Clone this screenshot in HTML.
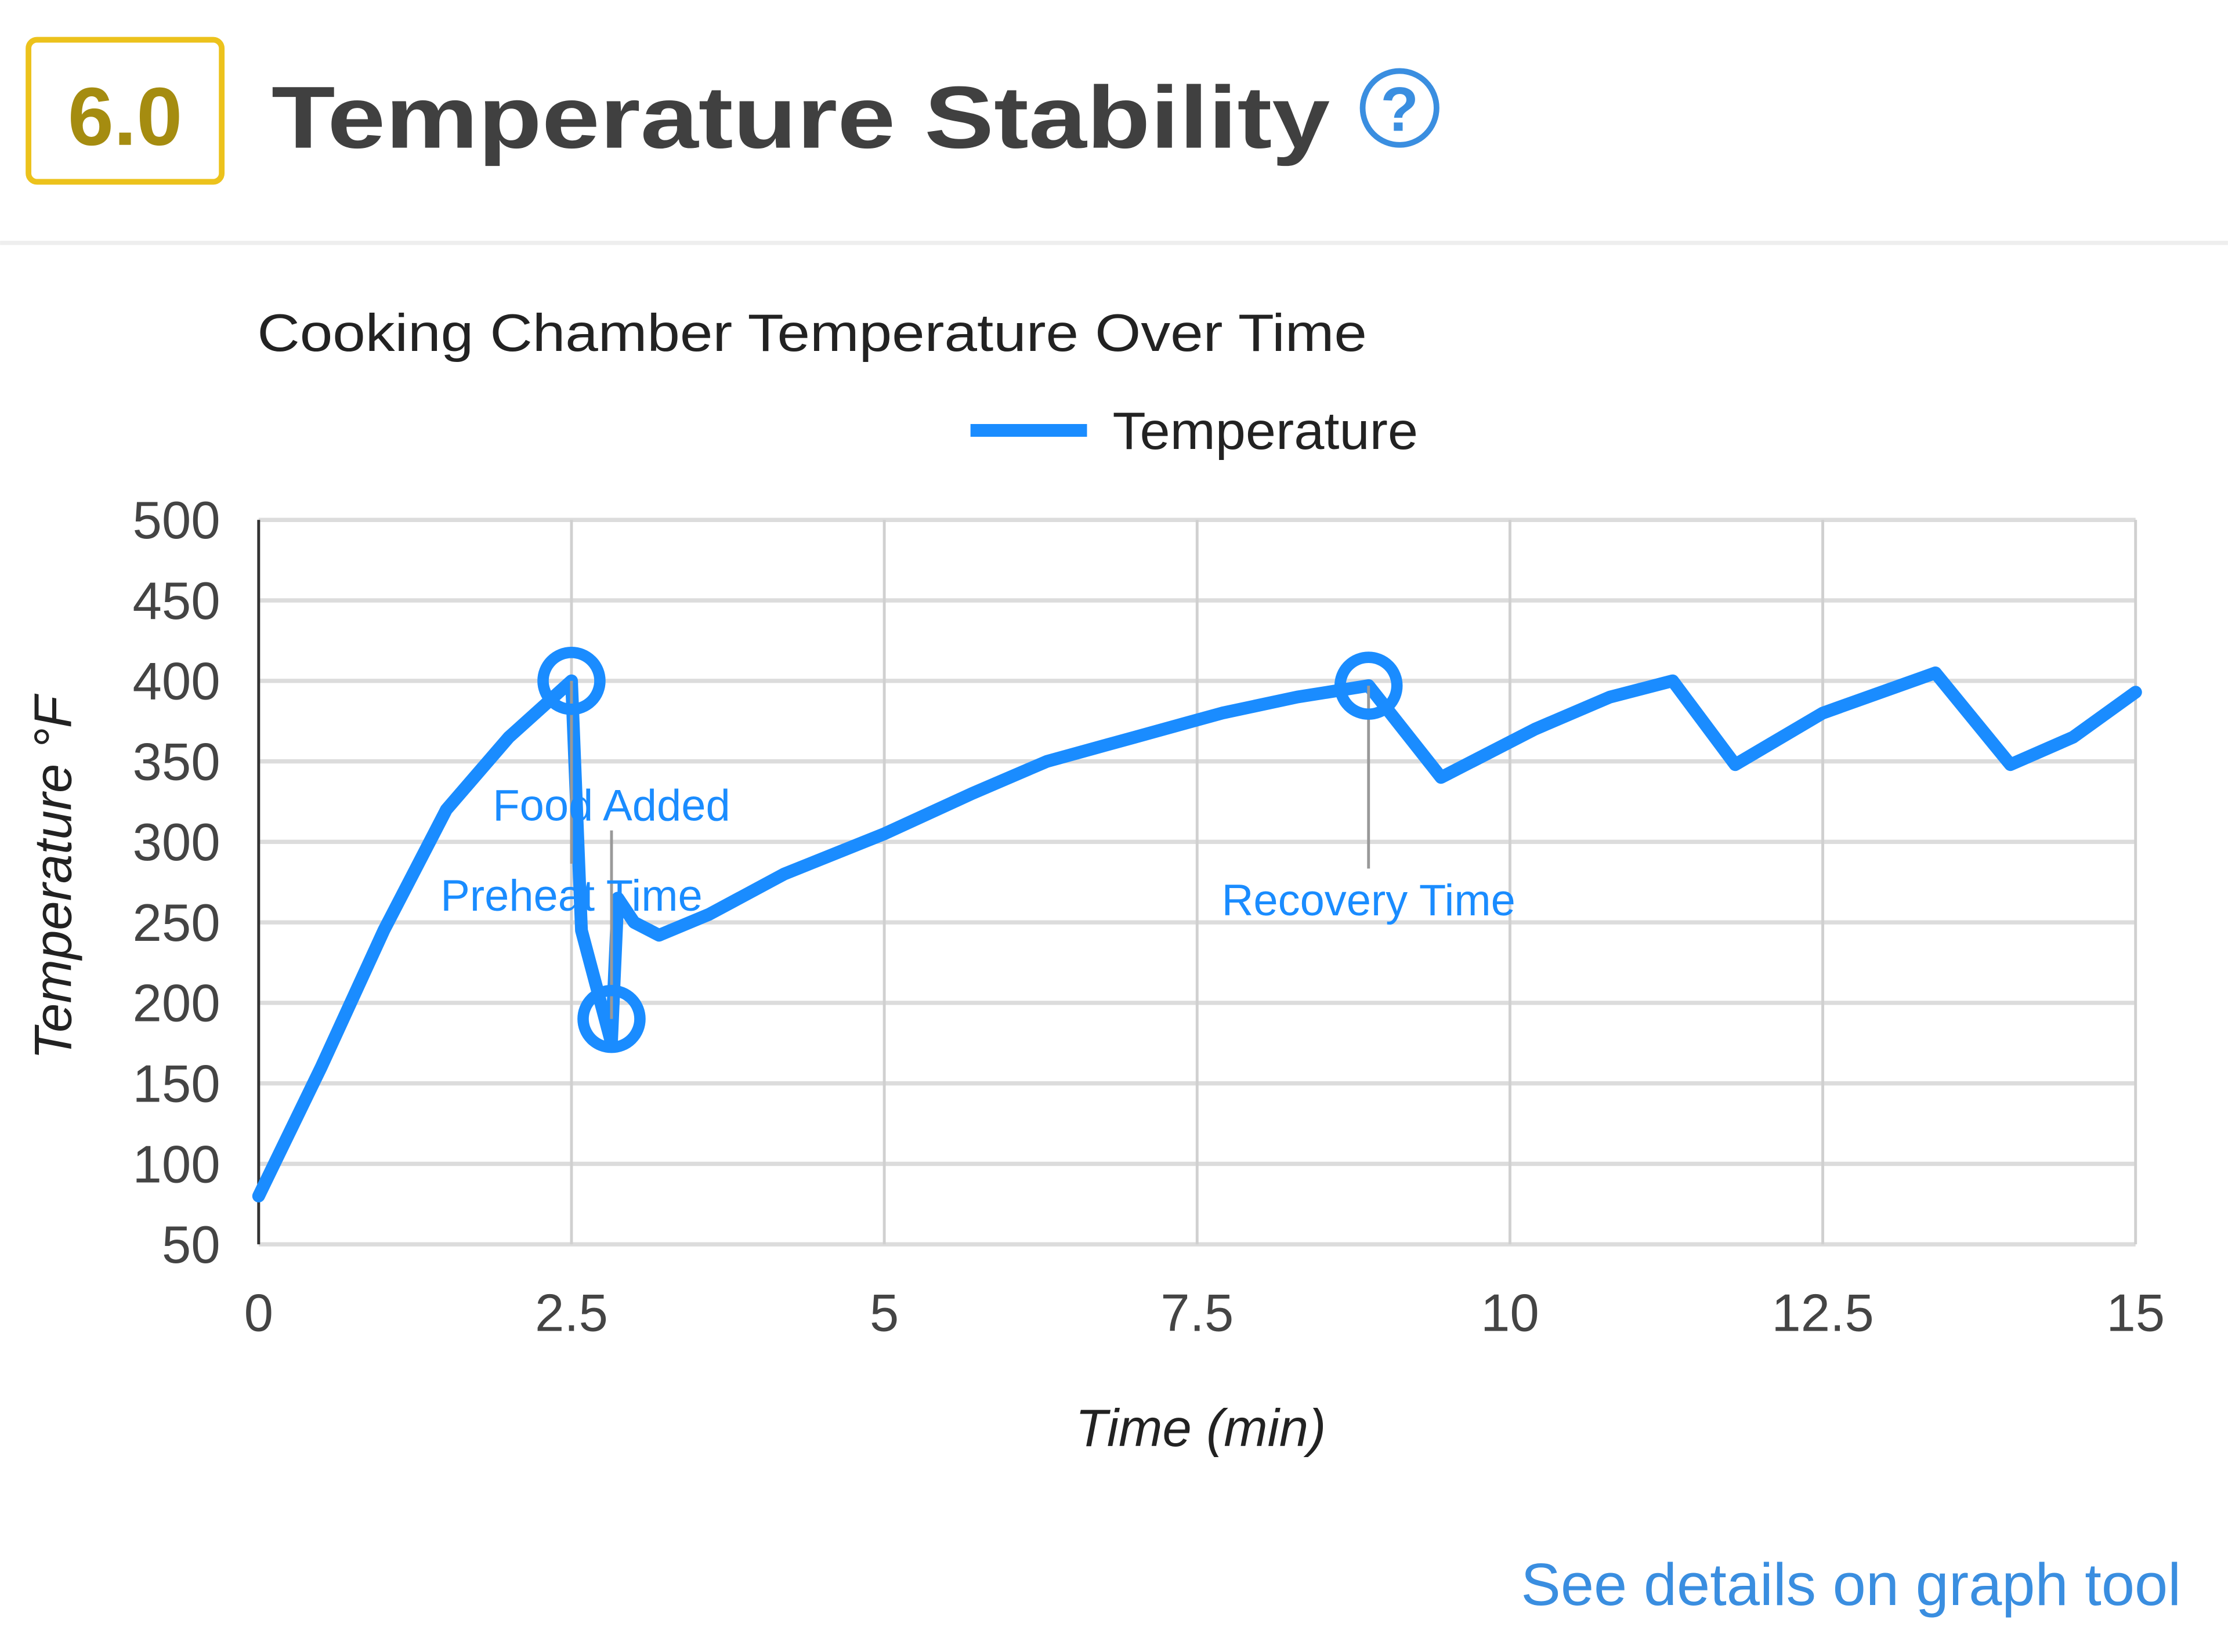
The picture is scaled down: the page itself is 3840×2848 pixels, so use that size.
<!DOCTYPE html>
<html><head><meta charset="utf-8"><style>
html,body{margin:0;padding:0;background:#fff;}
svg{display:block;font-family:"Liberation Sans",sans-serif;}
</style></head><body>
<svg id="chart" width="3840" height="2848" viewBox="0 0 1568 1163" xmlns="http://www.w3.org/2000/svg">
<rect x="0" y="0" width="1568" height="1163" fill="#fff"/>
<rect x="20" y="28" width="136" height="100" rx="6" fill="#fff" stroke="#ecc21c" stroke-width="4"/>
<text x="88" y="102" text-anchor="middle" font-size="58" font-weight="bold" fill="#a58c10">6.0</text>
<text x="191" y="104" font-size="62" font-weight="bold" fill="#404040" textLength="745" lengthAdjust="spacingAndGlyphs">Temperature Stability</text>
<g>
<circle cx="985" cy="76" r="26" fill="none" stroke="#3a8ee0" stroke-width="4"/>
<text x="985" y="92" text-anchor="middle" font-size="44" font-weight="bold" fill="#3a8ee0">?</text>
</g>
<line x1="0" y1="171" x2="1568" y2="171" stroke="#eeeeee" stroke-width="3"/>
<text x="181" y="247" font-size="37" fill="#222" textLength="781" lengthAdjust="spacingAndGlyphs">Cooking Chamber Temperature Over Time</text>
<g>
<line x1="683" y1="303" x2="765" y2="303" stroke="#1a8cff" stroke-width="9"/>
<text x="783" y="316" font-size="37" fill="#222" textLength="215" lengthAdjust="spacingAndGlyphs">Temperature</text>
</g>
<g id="grid"></g>
<g id="axes"></g>
<g id="series"></g>
<g id="annots"></g>
<text transform="translate(50,618) rotate(-90)" text-anchor="middle" font-size="37" font-style="italic" fill="#222">Temperature °F</text>
<text x="845" y="1018" text-anchor="middle" font-size="37" font-style="italic" fill="#222">Time (min)</text>
<text x="1535" y="1130" text-anchor="end" font-size="42" fill="#3a8ee0">See details on graph tool</text>
</svg>
<script>
const xTicks=[0,2.5,5,7.5,10,12.5,15];
const xTickLabels=["0","2.5","5","7.5","10","12.5","15"];
const yTicks=[50,100,150,200,250,300,350,400,450,500];
const times=[0,0.5,1,1.5,2,2.5,2.58,2.82,2.87,3.0,3.2,3.6,4.2,5,5.7,6.3,7,7.7,8.3,8.87,9.45,10.2,10.8,11.3,11.8,12.5,13.4,14,14.5,15];
const temps=[80,160,245,320,365,400,245,175,265,250,242,255,280,305,330,350,365,380,390,397,340,370,390,400,348,380,405,348,365,393];
const annTimes=[2.5,2.82,8.87];
const annTemps=[400,190,397];
const annLabels=["Preheat Time","Food Added","Recovery Time"];
const annLabelTemps=[267,323,264];
const NS="http://www.w3.org/2000/svg";
const X0=182,X1=1503,Y0=876,Y1=366;
const xs=t=>X0+(t-0)/(15-0)*(X1-X0);
const ys=v=>Y0-(v-50)/(500-50)*(Y0-Y1);
function mk(tag,attrs,parent){const e=document.createElementNS(NS,tag);for(const k in attrs)e.setAttribute(k,attrs[k]);parent.appendChild(e);return e;}
const grid=document.getElementById('grid'),axes=document.getElementById('axes'),series=document.getElementById('series'),ann=document.getElementById('annots');
yTicks.forEach(v=>{
 const l=mk('line',{x1:X0,x2:X1,y1:ys(v),y2:ys(v),stroke:'#dcdcdc','stroke-width':3},grid);
 
 
 const t=mk('text',{x:155,y:ys(v)+13,'text-anchor':'end','font-size':37,fill:'#444'},axes);
 t.textContent=v;
 
 
});
xTicks.forEach((v,i)=>{
 const l=mk('line',{x1:xs(v),x2:xs(v),y1:Y1,y2:Y0,stroke:'#d0d0d0','stroke-width':2},grid);
 
 
 const t=mk('text',{x:xs(v),y:937,'text-anchor':'middle','font-size':37,fill:'#444'},axes);
 t.textContent=xTickLabels[i];
 
 
});
const ax=mk('line',{x1:X0,x2:X0,y1:Y1,y2:Y0,stroke:'#333','stroke-width':2},axes);


annTimes.forEach((t,i)=>{
 const cy=ys(annTemps[i]),ly=ys(annLabelTemps[i]);
 const up=ly<cy;
 const l=mk('line',{x1:xs(t),x2:xs(t),y1:cy,y2:up?ly+18:ly-22,stroke:'#999','stroke-width':2},ann);
 
 
});
const d=times.map((t,i)=>(i?'L':'M')+xs(t).toFixed(1)+' '+ys(temps[i]).toFixed(1)).join(' ');
const p=mk('path',{d:d,fill:'none',stroke:'#1a8cff','stroke-width':9,'stroke-linejoin':'round','stroke-linecap':'round'},series);


annTimes.forEach((t,i)=>{
 const c=mk('circle',{cx:xs(t),cy:ys(annTemps[i]),r:20,fill:'none',stroke:'#1a8cff','stroke-width':8},ann);
 
 
 const tx=mk('text',{x:xs(t),y:ys(annLabelTemps[i])+11,'text-anchor':'middle','font-size':31,fill:'#1a8cff'},ann);
 tx.textContent=annLabels[i];
 
 
});
</script>
</body></html>
